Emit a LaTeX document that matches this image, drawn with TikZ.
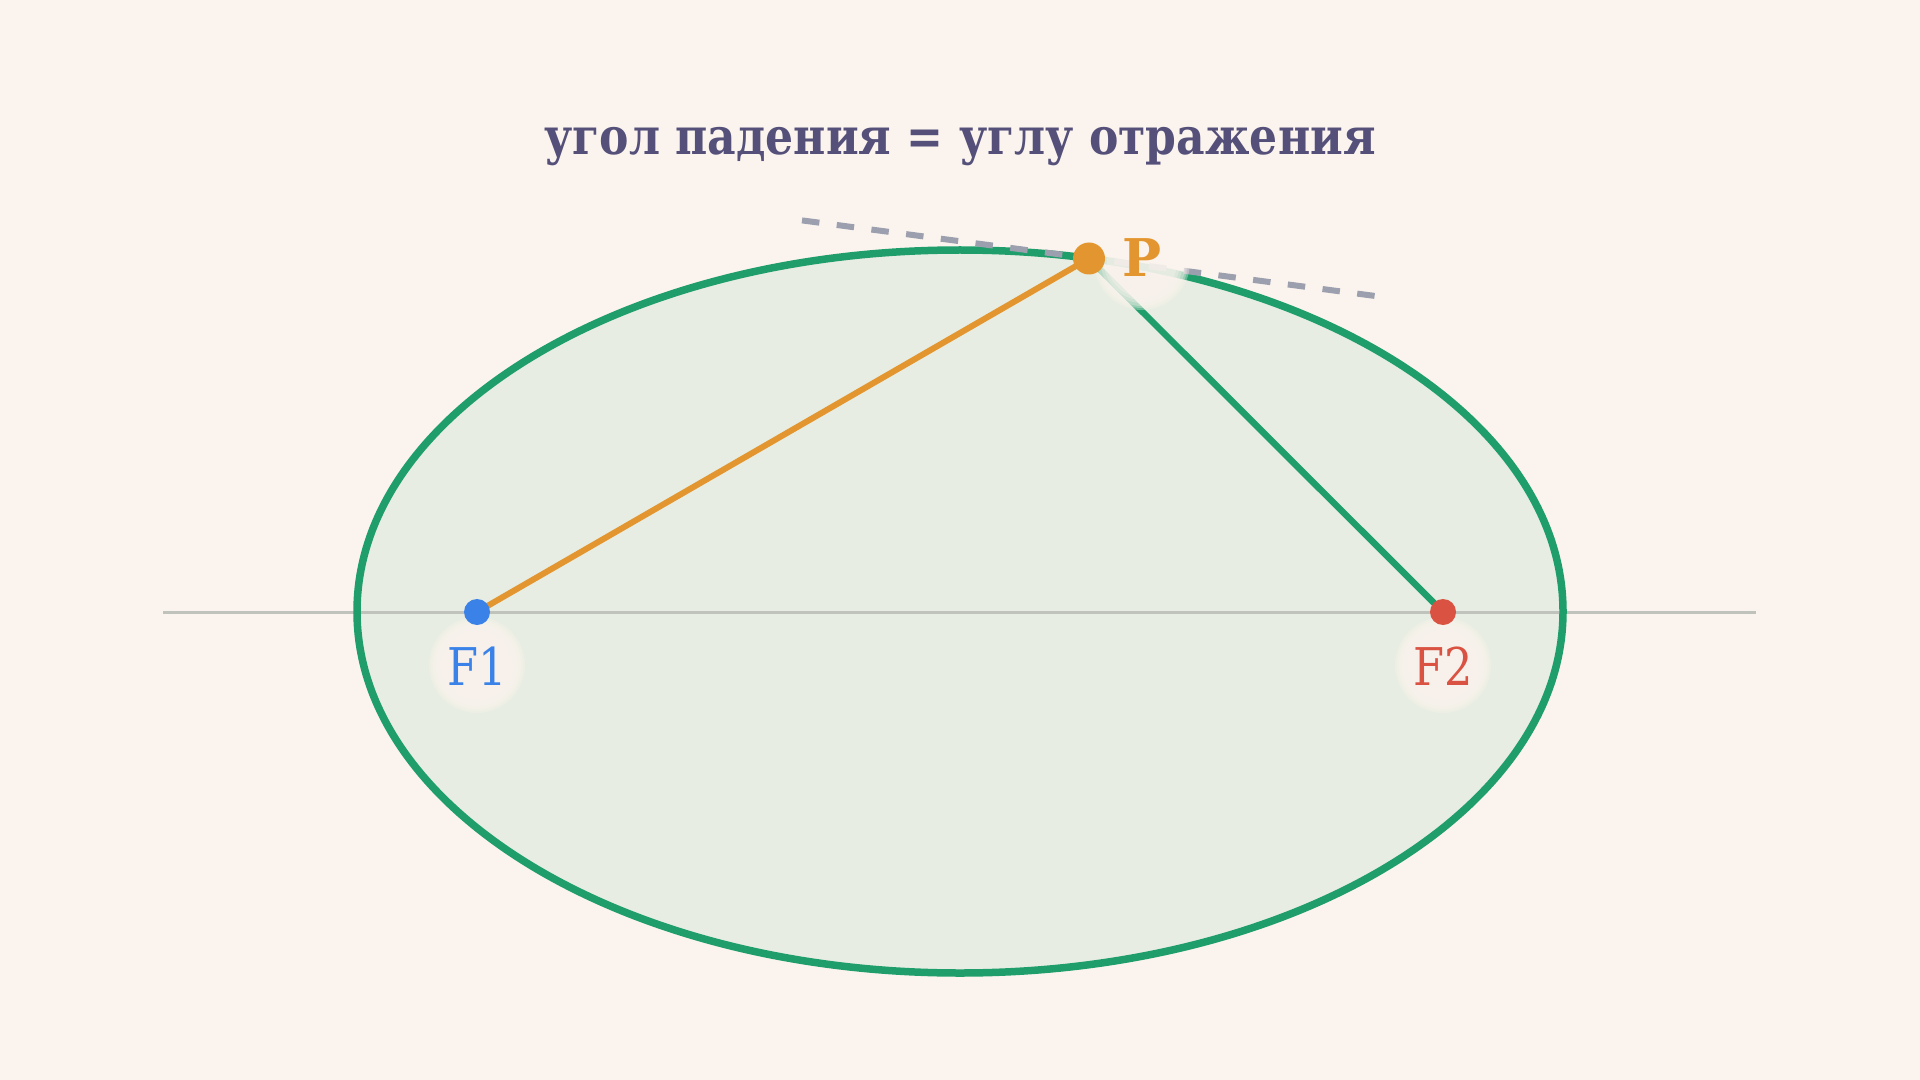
\documentclass[tikz,border=0pt]{standalone}
\usepackage{fontspec}
\setmainfont{DejaVu Serif}
\definecolor{bgc}{RGB}{251,244,238}
\definecolor{ellfill}{RGB}{231,237,226}
\definecolor{ellgreen}{RGB}{31,158,107}
\definecolor{orangec}{RGB}{227,150,47}
\definecolor{bluec}{RGB}{58,130,232}
\definecolor{redc}{RGB}{217,82,66}
\definecolor{titlec}{RGB}{84,80,122}
\definecolor{dashc}{RGB}{156,159,174}
\definecolor{axisc}{RGB}{192,195,188}
\tikzset{
  fdot/.style={circle, inner sep=0pt, minimum size=13pt},
  pdot/.style={circle, inner sep=0pt, minimum size=16pt, fill=orangec},
  flabel/.style={inner sep=0pt, anchor=base, font=\fontsize{26}{30}\selectfont},
}
\newcommand{\halo}[3]{%
  \foreach \rr in {#3,46,44,41,38,35}{\fill[bgc, opacity=0.33] (#1,#2) circle [radius=\rr];}}
\begin{document}
\begin{tikzpicture}[x=0.5pt,y=-0.5pt]
\useasboundingbox[fill=bgc] (0,0) rectangle (1920,1080);
\fill[ellfill] (960,611.5) ellipse [x radius=603, y radius=361.5];
\coordinate (A1) at (163,612);
\coordinate (A2) at (1756,612);
\draw[axisc, line width=1.5pt] (A1) -- (A2);
\draw[ellgreen, line width=3.75pt] (960,611.5) ellipse [x radius=603, y radius=361.5];
\coordinate (T1) at (802,220.4);
\coordinate (T2) at (1377.6,296.3);
\draw[dashc, line width=3pt, dash pattern=on 8.75pt off 8.75pt] (T1) -- (T2);
\coordinate (F1) at (477,612);
\coordinate (F2) at (1443,612);
\coordinate (P) at (1089,258.5);
\draw[orangec, line width=3pt] (F1) -- (P);
\draw[ellgreen, line width=3.25pt] (P) -- (F2);
\halo{1142}{262}{48}
\halo{477}{665}{48}
\halo{1443}{665}{48}
\node[fdot, fill=bluec] (F1d) at (F1) {};
\node[fdot, fill=redc] (F2d) at (F2) {};
\node[pdot] (Pd) at (P) {};
\node[flabel, text=bluec] (F1l) at (477,685) {\scalebox{0.86}[1]{F1}};
\node[flabel, text=redc] (F2l) at (1443,685) {\scalebox{0.86}[1]{F2}};
\node[flabel, text=orangec, font=\fontsize{26}{30}\selectfont\bfseries] (Pl) at (1142,277) {P};
\node[inner sep=0pt, anchor=base, text=titlec, font=\fontsize{25.5}{28}\selectfont\bfseries] (title) at (960,155) {\scalebox{0.865}[1]{угол падения = углу отражения}};
\end{tikzpicture}
\end{document}
